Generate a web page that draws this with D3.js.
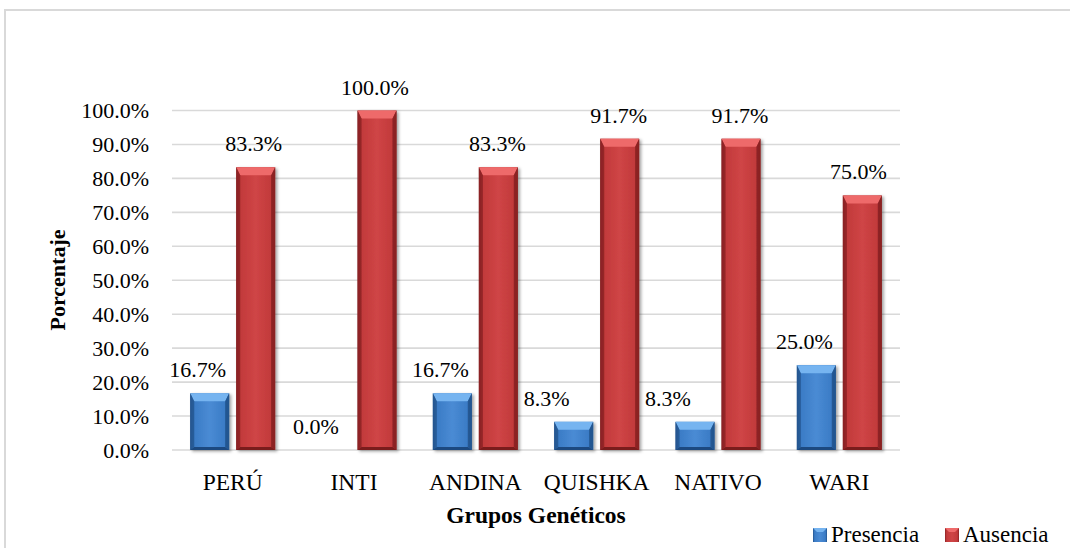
<!DOCTYPE html>
<html>
<head>
<meta charset="utf-8">
<script src="https://cdn.jsdelivr.net/npm/d3@7/dist/d3.min.js"></script>
<style>
  html, body { margin: 0; padding: 0; background: #fff; }
  svg { display: block; }
  text { font-family: "Liberation Serif", "Times New Roman", serif; fill: #000; }
</style>
</head>
<body>
<svg id="chart" width="1070" height="548"></svg>
<script>
// Genetic groups and the share of samples with / without the marker
const categories = ["PERÚ", "INTI", "ANDINA", "QUISHKA", "NATIVO", "WARI"];
const seriesNames = ["Presencia", "Ausencia"];
const presencia = [16.7, 0.0, 16.7, 8.3, 8.3, 25.0];
const ausencia  = [83.3, 100.0, 83.3, 91.7, 91.7, 75.0];
const yTicks = [0, 10, 20, 30, 40, 50, 60, 70, 80, 90, 100];

const palette = {
  Presencia: { body: "#3b7cc6", mid: "#4a8bd4", edge: "#24558f", top: "#76b4f0", bottom: "#1f4a80" },
  Ausencia:  { body: "#c23a3b", mid: "#cf4546", edge: "#8a2224", top: "#ee6a6a", bottom: "#7a1c1e" }
};

// hand-placed value labels: horizontal nudge (px) from the bar centre
const labelNudge = {
  Presencia: [-12, -15, -12, -27, -27, -12],
  Ausencia:  [-2, -2, -1, -1, -1, -4]
};

const svg = d3.select("#chart");
const defs = svg.append("defs");

// soft shadow under the bars
const shadow = defs.append("filter").attr("id", "barShadow")
  .attr("x", "-20%").attr("y", "-10%").attr("width", "150%").attr("height", "130%");
shadow.append("feDropShadow").attr("dx", 2).attr("dy", 1.5)
  .attr("stdDeviation", 1.5).attr("flood-color", "#000").attr("flood-opacity", 0.35);

// horizontal shading for the bar body
seriesNames.forEach(s => {
  const c = palette[s];
  const g = defs.append("linearGradient").attr("id", "grad-" + s)
    .attr("x1", "0").attr("x2", "1").attr("y1", "0").attr("y2", "0");
  g.append("stop").attr("offset", "0").attr("stop-color", c.edge);
  g.append("stop").attr("offset", "0.12").attr("stop-color", c.body);
  g.append("stop").attr("offset", "0.5").attr("stop-color", c.mid);
  g.append("stop").attr("offset", "0.88").attr("stop-color", c.body);
  g.append("stop").attr("offset", "1").attr("stop-color", c.edge);
});

// chart frame
svg.append("rect").attr("x", 5).attr("y", 10).attr("width", 1080).attr("height", 560)
  .attr("fill", "none").attr("stroke", "#d9d9d9").attr("stroke-width", 2);

const plot = { left: 172, right: 900, top: 110.5, bottom: 450 };

const x0 = d3.scaleBand().domain(categories).range([plot.left, plot.right]).padding(0);
const groupWidth = 85;
const x1 = d3.scaleBand().domain(seriesNames).range([0, groupWidth]).paddingInner(0.152).paddingOuter(0);
const y = d3.scaleLinear().domain([0, 100]).range([plot.bottom, plot.top]);

// gridlines
svg.append("g").selectAll("line").data(yTicks).join("line")
  .attr("x1", plot.left).attr("x2", plot.right)
  .attr("y1", d => y(d)).attr("y2", d => y(d))
  .attr("stroke", "#d9d9d9").attr("stroke-width", 1.6);

// y axis labels
const yAxis = d3.axisLeft(y).tickValues(yTicks).tickSize(0).tickPadding(0)
  .tickFormat(d => d.toFixed(1) + "%");
const gy = svg.append("g").attr("transform", "translate(149,0)").call(yAxis);
gy.select(".domain").remove();
gy.selectAll("text").attr("font-size", 22).attr("fill", "#000");

// x axis labels
const xAxis = d3.axisBottom(x0).tickSize(0).tickPadding(0);
const gx = svg.append("g").attr("transform", "translate(0,490)").call(xAxis);
gx.select(".domain").remove();
gx.selectAll("text").attr("font-size", 23.5).attr("fill", "#000").attr("dy", 0);

// axis titles
svg.append("text").attr("x", (plot.left + plot.right) / 2).attr("y", 523)
  .attr("text-anchor", "middle").attr("font-size", 23.5).attr("font-weight", "bold")
  .text("Grupos Genéticos");
svg.append("text").attr("transform", "translate(65,280) rotate(-90)")
  .attr("text-anchor", "middle").attr("font-size", 22).attr("font-weight", "bold")
  .text("Porcentaje");

// beveled bar
function drawBar(g, s, x, yTop, w, h) {
  if (h <= 0.5) return;
  const c = palette[s];
  const bh = Math.min(8, h / 2), bs = Math.min(4, w / 4);
  const bar = g.append("g").attr("filter", "url(#barShadow)");
  bar.append("rect").attr("x", x).attr("y", yTop).attr("width", w).attr("height", h)
    .attr("fill", "url(#grad-" + s + ")");
  // top facet
  bar.append("path").attr("d", `M${x},${yTop} L${x + w},${yTop} L${x + w - bs},${yTop + bh} L${x + bs},${yTop + bh} Z`)
    .attr("fill", c.top);
  // bottom facet
  const bb = Math.min(3, h / 4);
  bar.append("path").attr("d", `M${x},${yTop + h} L${x + w},${yTop + h} L${x + w - bs},${yTop + h - bb} L${x + bs},${yTop + h - bb} Z`)
    .attr("fill", c.bottom);
  // side facets
  bar.append("path").attr("d", `M${x},${yTop} L${x + bs},${yTop + bh} L${x + bs},${yTop + h - bb} L${x},${yTop + h} Z`)
    .attr("fill", c.edge).attr("opacity", 0.75);
  bar.append("path").attr("d", `M${x + w},${yTop} L${x + w - bs},${yTop + bh} L${x + w - bs},${yTop + h - bb} L${x + w},${yTop + h} Z`)
    .attr("fill", c.edge).attr("opacity", 0.9);
}

const rows = categories.map((cat, i) => ({ cat, i, Presencia: presencia[i], Ausencia: ausencia[i] }));
const groupOffset = (x0.bandwidth() - groupWidth) / 2;

const bars = svg.append("g");
rows.forEach(r => {
  seriesNames.forEach(s => {
    const bx = x0(r.cat) + groupOffset + x1(s);
    drawBar(bars, s, bx, y(r[s]), x1.bandwidth(), y(0) - y(r[s]));
  });
});

// value labels
const labels = svg.append("g");
rows.forEach(r => {
  seriesNames.forEach(s => {
    const cx = x0(r.cat) + groupOffset + x1(s) + x1.bandwidth() / 2 + labelNudge[s][r.i];
    labels.append("text").attr("x", cx).attr("y", y(r[s]) - 16)
      .attr("text-anchor", "middle").attr("font-size", 22)
      .text(r[s].toFixed(1) + "%");
  });
});

// legend
const legend = svg.append("g");
const legendItems = [{ s: "Presencia", x: 813 }, { s: "Ausencia", x: 945 }];
legendItems.forEach(it => {
  const c = palette[it.s];
  const gq = legend.append("g");
  gq.append("rect").attr("x", it.x).attr("y", 528).attr("width", 14).attr("height", 14)
    .attr("fill", "url(#grad-" + it.s + ")");
  gq.append("path").attr("d", `M${it.x},528 L${it.x + 14},528 L${it.x + 10},532 L${it.x + 4},532 Z`).attr("fill", c.top);
  legend.append("text").attr("x", it.x + 18).attr("y", 542).attr("font-size", 23).text(it.s);
});
</script>
</body>
</html>
